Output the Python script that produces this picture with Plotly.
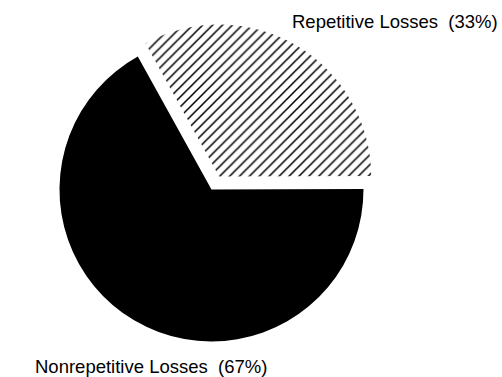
import plotly.graph_objects as go

labels = ["Repetitive Losses", "Nonrepetitive Losses"]
values = [33, 67]

fig = go.Figure(go.Pie(
    labels=labels,
    values=values,
    sort=False,
    direction="clockwise",
    rotation=-29,
    pull=[0.1, 0],
    textinfo="none",
    hoverinfo="label+percent",
    marker=dict(
        colors=["white", "black"],
        line=dict(width=0),
        pattern=dict(shape=["/", ""], fgcolor="black", bgcolor=["white", "black"],
                     size=7, solidity=0.22),
    ),
    domain=dict(x=[0.0882, 0.7544], y=[0.0538, 0.9408]),
    showlegend=False,
))

pos = [(395, 21), (151, 366)]
for (lab, val), (px, py) in zip(zip(labels, values), pos):
    fig.add_annotation(
        text=f"{lab}  ({val}%)", x=px / 502, y=1 - py / 377,
        xref="paper", yref="paper", showarrow=False,
        xanchor="center", yanchor="middle",
        font=dict(family="Liberation Sans, Arial, sans-serif", size=18.5, color="black"),
    )

fig.update_layout(
    width=502, height=377,
    margin=dict(l=0, r=0, t=0, b=0),
    paper_bgcolor="white", plot_bgcolor="white",
)
fig.write_html("out.html")
